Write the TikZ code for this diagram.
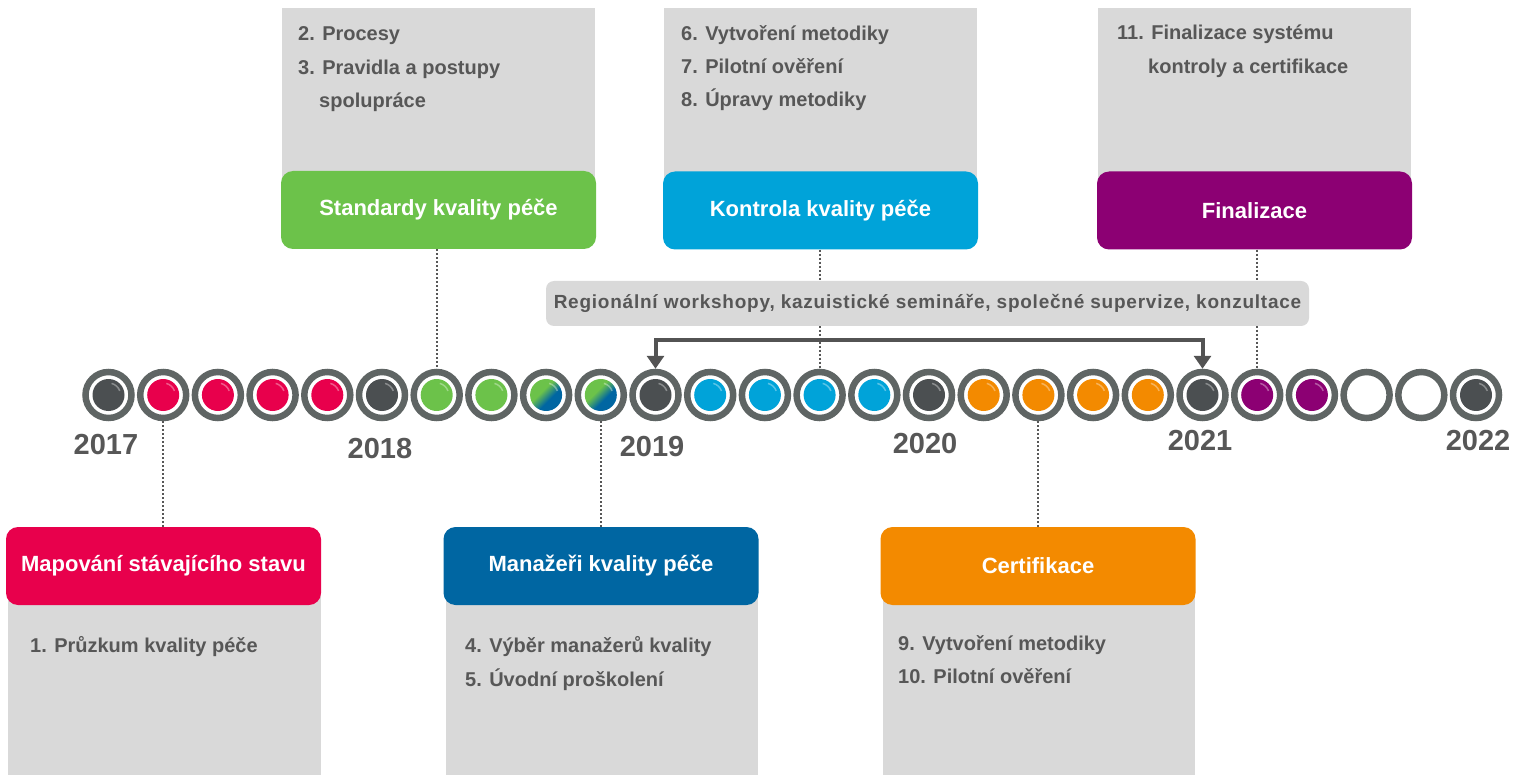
\documentclass[tikz,border=0pt]{standalone}
\usepackage{fontspec}
\setmainfont{Liberation Sans}
\newfontfamily\wsfont{Liberation Sans}[LetterSpace=4]
\usetikzlibrary{arrows.meta}

\definecolor{ringgray}{HTML}{5F6564}
\definecolor{dotdark}{HTML}{4B4F51}
\definecolor{kred}{HTML}{E8004C}
\definecolor{kgreen}{HTML}{6CC24A}
\definecolor{kblue}{HTML}{00A3D9}
\definecolor{kdblue}{HTML}{0066A2}
\definecolor{korange}{HTML}{F38A00}
\definecolor{kpurple}{HTML}{8C0073}
\definecolor{panelgray}{HTML}{D9D9D9}
\definecolor{txtgray}{HTML}{575757}

\pgfdeclarehorizontalshading{gbshade}{100bp}{color(0bp)=(kgreen); color(44bp)=(kgreen);
  color(56bp)=(kdblue); color(100bp)=(kdblue)}

\tikzset{
  ringdot/.style={circle, draw=ringgray, line width=6.5pt, fill=white,
    minimum size=46pt, inner sep=0pt},
  dot/.style={ringdot, path picture={
    \fill[#1] (path picture bounding box.center) circle (16pt);
    \draw[white, opacity=.35, line width=1.5pt]
      (path picture bounding box.center) ++(75:12pt) arc (75:20:12pt);}},
  mixdot/.style={ringdot, path picture={
    \shade[shading=gbshade, shading angle=-45]
      (path picture bounding box.center) circle (16pt);
    \draw[white, opacity=.35, line width=1.5pt]
      (path picture bounding box.center) ++(75:12pt) arc (75:20:12pt);}},
  head/.style={rounded corners=12pt, fill=#1, text=white,
    font=\fontsize{22}{22}\selectfont\bfseries,
    minimum width=315pt, minimum height=78pt, inner sep=0pt},
  panel/.style={fill=panelgray, inner sep=0pt, anchor=north west},
  item/.style={anchor=base west, inner sep=0pt, text=txtgray,
    font=\fontsize{20}{20}\selectfont\bfseries},
  year/.style={text=txtgray, inner sep=0pt,
    font=\fontsize{29}{29}\selectfont\bfseries},
  link/.style={draw=txtgray, line width=2pt, dash pattern=on 2pt off 2pt},
  bracket/.style={draw=txtgray!95!black, line width=4pt,
    {Triangle[width=17pt,length=13pt]}-{Triangle[width=17pt,length=13pt]}}
}

\begin{document}
\begin{tikzpicture}[x=1pt, y=-1pt]
  \useasboundingbox (0,0) rectangle (1514,775);

  % grey panels behind the headings
  \node[panel, minimum width=313pt, minimum height=200pt] (stdpanel) at (282,8) {};
  \node[panel, minimum width=313pt, minimum height=200pt] (konpanel) at (664,8) {};
  \node[panel, minimum width=313pt, minimum height=200pt] (finpanel) at (1098,8) {};
  \node[panel, minimum width=313pt, minimum height=195pt] (mappanel) at (8,580) {};
  \node[panel, minimum width=312pt, minimum height=195pt] (manpanel) at (446,580) {};
  \node[panel, minimum width=312pt, minimum height=195pt] (certpanel) at (883,580) {};

  % timeline
  \foreach \k/\c in {0/dotdark,1/kred,2/kred,3/kred,4/kred,5/dotdark,6/kgreen,7/kgreen,
                     10/dotdark,11/kblue,12/kblue,13/kblue,14/kblue,15/dotdark,
                     16/korange,17/korange,18/korange,19/korange,20/dotdark,
                     21/kpurple,22/kpurple,25/dotdark}
    \node[dot=\c] (c\k) at ({108.5+54.7*\k},395) {};
  \foreach \k in {8,9}
    \node[mixdot] (c\k) at ({108.5+54.7*\k},395) {};
  \foreach \k in {23,24}
    \node[ringdot] (c\k) at ({108.5+54.7*\k},395) {};

  \begin{scope}[every node/.style={year}]
    \node (y2017) at (106,445) {2017};
    \node (y2018) at (380,449) {2018};
    \node (y2019) at (652,447) {2019};
    \node (y2020) at (925,444) {2020};
    \node (y2021) at (1200,441) {2021};
    \node (y2022) at (1478,441) {2022};
  \end{scope}

  % headings
  \node[head=kgreen] (stdhead) at (438.5,210) {Standardy kvality péče};
  \node[head=kblue] (konhead) at (820.5,210.5) {Kontrola kvality péče};
  \node[head=kpurple] (finhead) at (1254.5,210.5) {Finalizace};
  \node[head=kred] (maphead) at (163.5,566) {Mapování stávajícího stavu};
  \node[head=kdblue] (manhead) at (601,566) {Manažeři kvality péče};
  \node[head=korange] (certhead) at (1038,566) {Certifikace};

  % dotted links
  \draw[link] (stdhead.south -| c6) -- (c6.north);
  \draw[link] (konhead.south -| c13) -- (c13.north);
  \draw[link] (finhead.south -| c21) -- (c21.north);
  \draw[link] (c1.south) -- (c1.south |- maphead.north);
  \draw[link] (c9.south) -- (c9.south |- manhead.north);
  \draw[link] (c17.south) -- (c17.south |- certhead.north);

  \node[fill=panelgray, rounded corners=8pt, minimum width=763pt, minimum height=45pt,
    inner sep=0pt, text=txtgray, font=\wsfont\fontsize{19}{19}\selectfont\bfseries]
    (workshop) at (927.5,303.5)
    {Regionální workshopy, kazuistické semináře, společné supervize, konzultace};
  \draw[bracket] (c10.north) -- ++(0,-29) -| (c20.north);

  % items
  \begin{scope}[every node/.style={item}]
    \node (i2) at (298,41) {2. Procesy};
    \node (i3) at (298,75) {3. Pravidla a postupy};
    \node (i3b) at (319,108) {spolupráce};
    \node (i6) at (681,41) {6. Vytvoření metodiky};
    \node (i7) at (681,74) {7. Pilotní ověření};
    \node (i8) at (681,107) {8. Úpravy metodiky};
    \node (i11) at (1117,40) {11. Finalizace systému};
    \node (i11b) at (1148,74) {kontroly a certifikace};
    \node (i1) at (30,652) {1. Průzkum kvality péče};
    \node (i4) at (465,652) {4. Výběr manažerů kvality};
    \node (i5) at (465,686) {5. Úvodní proškolení};
    \node (i9) at (898,650) {9. Vytvoření metodiky};
    \node (i10) at (898,683) {10. Pilotní ověření};
  \end{scope}

\end{tikzpicture}
\end{document}
